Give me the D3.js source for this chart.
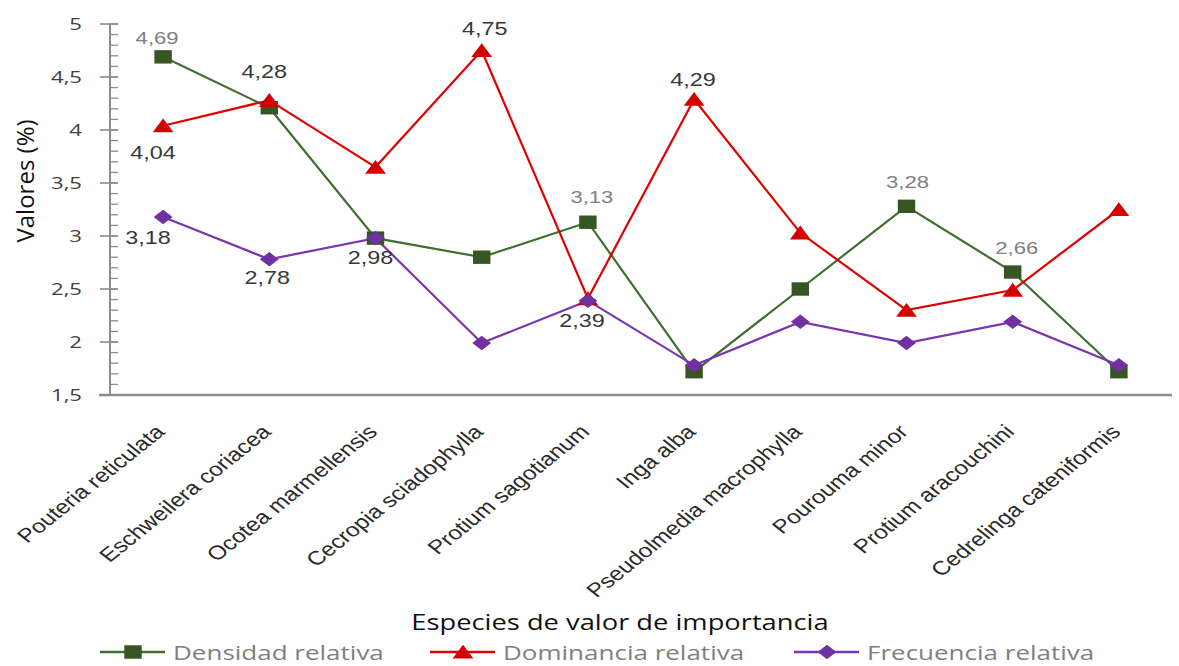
<!DOCTYPE html>
<html>
<head>
<meta charset="utf-8">
<script src="https://cdn.jsdelivr.net/npm/d3@7"></script>
<style>
  body { margin: 0; background: #fff; }
  svg { display: block; }
</style>
</head>
<body>
<div id="chart"></div>
<script>
var categories = ['Pouteria reticulata', 'Eschweilera coriacea', 'Ocotea marmellensis', 'Cecropia sciadophylla',
  'Protium sagotianum', 'Inga alba', 'Pseudolmedia macrophylla', 'Pourouma minor', 'Protium aracouchini', 'Cedrelinga cateniformis'];

var densidad = [4.69, 4.21, 2.98, 2.80, 3.13, 1.72, 2.50, 3.28, 2.66, 1.72];
var dominancia = [4.04, 4.28, 3.65, 4.75, 2.41, 4.29, 3.03, 2.30, 2.49, 3.25];
var frecuencia = [3.18, 2.78, 2.98, 1.99, 2.39, 1.78, 2.19, 1.99, 2.19, 1.78];

var yTicks = [1.5, 2, 2.5, 3, 3.5, 4, 4.5, 5];

// labels shown on the chart: [series, index, dx, dy, grey?]
var pointLabels = [
  ['densidad', 0, -6, -19, true],
  ['densidad', 4, 4, -25, true],
  ['densidad', 7, 1, -24, true],
  ['densidad', 8, 4, -24, true],
  ['dominancia', 1, -5, -28, false],
  ['dominancia', 3, 3, -22, false],
  ['dominancia', 5, -1, -19, false],
  ['dominancia', 0, -10, 27, false],
  ['frecuencia', 0, -15, 21, false],
  ['frecuencia', 1, -2, 19, false],
  ['frecuencia', 2, -5, 20, false],
  ['frecuencia', 4, -6, 20, false]
];

var width = 1179, height = 666;
var margin = {left: 110, right: 7, top: 24, bottom: 271};
var stretch = 1.3; // the reference text is drawn a bit wide

var svg = d3.select('#chart').append('svg').attr('width', width).attr('height', height);

var x = d3.scaleBand().domain(categories).range([margin.left, width - margin.right]);
var y = d3.scaleLinear().domain([1.5, 5]).range([height - margin.bottom, margin.top]);

var seriesList = [
  {key: 'densidad', name: 'Densidad relativa', values: densidad, color: '#3f7030', marker: '#375623', shape: d3.symbolSquare, size: 180, rot: 0},
  {key: 'dominancia', name: 'Dominancia relativa', values: dominancia, color: '#e00000', marker: '#d40000', shape: d3.symbolTriangle, size: 110, rot: 0},
  {key: 'frecuencia', name: 'Frecuencia relativa', values: frecuencia, color: '#7a35b0', marker: '#7030a0', shape: d3.symbolSquare, size: 105, rot: 45}
];

var axisColor = '#8c8c8c';

function wideText(parent, px, py, size, family, color, anchor, str) {
  return parent.append('text')
    .attr('transform', 'translate(' + px + ',' + py + ') scale(' + stretch + ',1)')
    .attr('text-anchor', anchor)
    .attr('font-family', family)
    .attr('font-size', size)
    .attr('fill', color)
    .text(str);
}

// y axis with minor ticks
var yAxisG = svg.append('g').attr('transform', 'translate(' + margin.left + ',0)');
yAxisG.append('line')
  .attr('y1', y(1.5)).attr('y2', y(5))
  .attr('stroke', axisColor).attr('stroke-width', 2);

var minor = d3.range(1.5, 5.001, 0.1);
yAxisG.selectAll('.minor').data(minor).enter().append('line')
  .attr('x1', 0).attr('x2', 8)
  .attr('y1', function(d) { return y(d); }).attr('y2', function(d) { return y(d); })
  .attr('stroke', axisColor).attr('stroke-width', 1.3);

yAxisG.selectAll('.major').data(yTicks).enter().append('line')
  .attr('x1', -10).attr('x2', 8)
  .attr('y1', function(d) { return y(d); }).attr('y2', function(d) { return y(d); })
  .attr('stroke', axisColor).attr('stroke-width', 1.6);

yTicks.forEach(function(d) {
  wideText(svg, 82, y(d) + 6, 17, 'Open Sans, sans-serif', '#404040', 'end', String(d).replace('.', ','));
});

// x axis
svg.append('line')
  .attr('x1', 99).attr('x2', width - margin.right)
  .attr('y1', y(1.5)).attr('y2', y(1.5))
  .attr('stroke', axisColor).attr('stroke-width', 2.5);

svg.selectAll('.xlab').data(categories).enter().append('text')
  .attr('transform', function(d) {
    return 'translate(' + (x(d) + x.bandwidth() / 2 + 3) + ',' + 433 + ') scale(1.25,1) rotate(-45)';
  })
  .attr('text-anchor', 'end')
  .attr('font-family', 'Liberation Sans, Arial, sans-serif')
  .attr('font-size', 19.5)
  .attr('fill', '#2a2a2a')
  .text(function(d) { return d; });

// titles
svg.append('text')
  .attr('transform', 'translate(34,' + 181 + ') rotate(-90)')
  .attr('text-anchor', 'middle')
  .attr('font-family', 'Open Sans, sans-serif')
  .attr('font-size', 24)
  .attr('fill', '#111')
  .text('Valores (%)');

wideText(svg, 620, 630, 21, 'Open Sans, sans-serif', '#111', 'middle', 'Especies de valor de importancia');

// lines and markers
var line = d3.line()
  .x(function(d, i) { return x(categories[i]) + x.bandwidth() / 2; })
  .y(function(d) { return y(d); });

seriesList.forEach(function(s) {
  svg.append('path')
    .attr('d', line(s.values))
    .attr('fill', 'none')
    .attr('stroke', s.color)
    .attr('stroke-width', 2.2);
});

function markerTransform(s, px, py) {
  var dy = s.shape === d3.symbolTriangle ? 2 : 0;
  return 'translate(' + px + ',' + (py + dy) + ') scale(' + stretch + ',1) rotate(' + s.rot + ')';
}

seriesList.forEach(function(s) {
  svg.selectAll('.m-' + s.key).data(s.values).enter().append('path')
    .attr('d', d3.symbol().type(s.shape).size(s.size))
    .attr('transform', function(d, i) {
      return markerTransform(s, x(categories[i]) + x.bandwidth() / 2, y(d));
    })
    .attr('fill', s.marker);
});

// data labels
var byKey = {};
seriesList.forEach(function(s) { byKey[s.key] = s; });

pointLabels.forEach(function(l) {
  var s = byKey[l[0]], i = l[1];
  wideText(svg,
    x(categories[i]) + x.bandwidth() / 2 + l[2],
    y(s.values[i]) + l[3] + 6,
    l[4] ? 17 : 18,
    'Liberation Sans, Arial, sans-serif',
    l[4] ? '#808080' : '#383838',
    'middle',
    s.values[i].toFixed(2).replace('.', ','));
});

// legend
var legendX = [100, 430, 794];
seriesList.forEach(function(s, i) {
  var g = svg.append('g').attr('transform', 'translate(' + legendX[i] + ',652)');
  g.append('line')
    .attr('x1', 0).attr('x2', 65)
    .attr('stroke', s.color)
    .attr('stroke-width', 2.5);
  g.append('path')
    .attr('d', d3.symbol().type(s.shape).size(s.size)())
    .attr('transform', markerTransform(s, 33, 0))
    .attr('fill', s.marker);
  wideText(g, 73, 8, 20, 'Open Sans, sans-serif', '#7f7f7f', 'start', s.name);
});
</script>
</body>
</html>
